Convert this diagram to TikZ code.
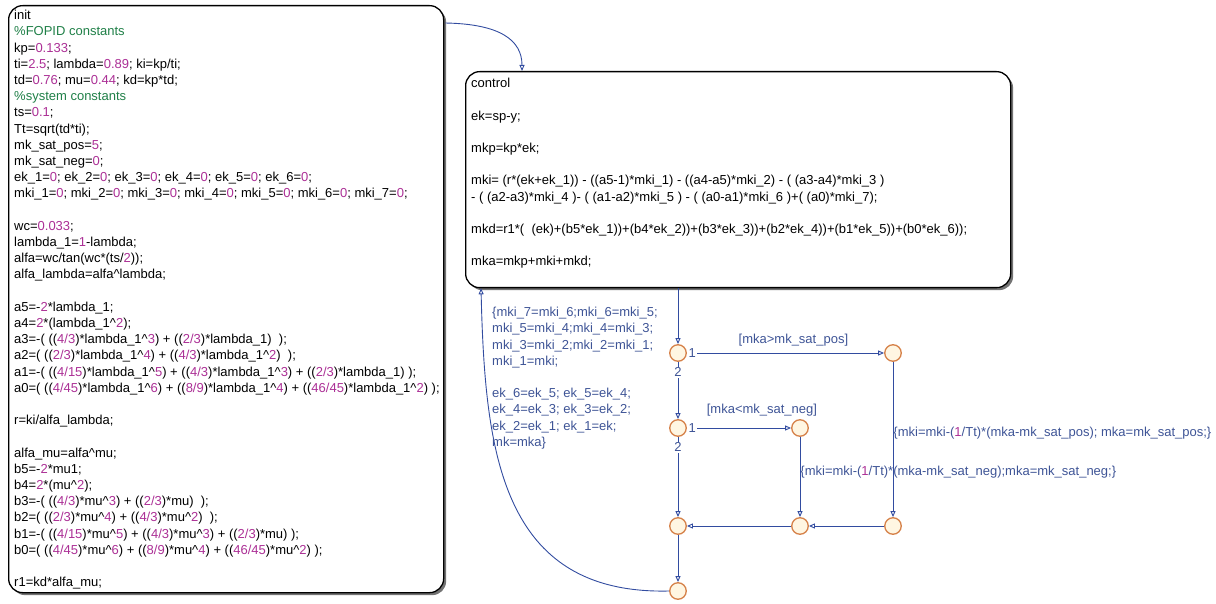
\documentclass[tikz,border=0pt]{standalone}
\usepackage{fontspec}
\setmainfont{Liberation Sans}
\usetikzlibrary{arrows.meta,calc,positioning,shadows}
\definecolor{trblue}{RGB}{50,76,160}
\definecolor{lblblue}{RGB}{62,84,150}
\definecolor{numpink}{RGB}{172,48,150}
\definecolor{cmtgreen}{RGB}{32,128,72}
\definecolor{jedge}{RGB}{214,130,74}
\definecolor{jfill}{RGB}{255,246,226}
\newcommand\nm[1]{\textcolor{numpink}{#1}}
\newcommand\cm[1]{\textcolor{cmtgreen}{#1}}
\newcommand\pw{\textasciicircum}
\tikzset{
  statebox/.style={draw=black,line width=1.3pt,rounded corners=14pt,fill=white,
    drop shadow={shadow xshift=2.5pt,shadow yshift=-2.5pt,opacity=1,fill=black!55}},
  code/.style={anchor=north west,inner sep=0pt,align=left,font=\fontsize{13}{16.2}\selectfont},
  junc/.style={circle,draw=jedge,fill=jfill,line width=1.3pt,minimum size=16.5pt,inner sep=0pt},
  trans/.style={draw=trblue,line width=0.9pt,-{Triangle[open,length=6pt,width=5pt]}},
  trlabel/.style={text=lblblue,font=\fontsize{13}{16.2}\selectfont,inner sep=1pt},
  prio/.style={trlabel,fill=white},
}
\begin{document}
\begin{tikzpicture}[x=1pt,y=-1pt]
 \useasboundingbox (0,0) rectangle (1216,604);
 % states
 \node[statebox,minimum width=435pt,minimum height=587pt,anchor=north west] (init) at (8,5) {};
 \node[code] (initcode) at (14,10) {init\\
  \cm{\%FOPID constants}\\
  kp=\nm{0.133};\\
  ti=\nm{2.5}; lambda=\nm{0.89}; ki=kp/ti;\\
  td=\nm{0.76}; mu=\nm{0.44}; kd=kp*td;\\
  \cm{\%system constants}\\
  ts=\nm{0.1};\\
  Tt=sqrt(td*ti);\\
  mk\_sat\_pos=\nm{5};\\
  mk\_sat\_neg=\nm{0};\\
  ek\_1=\nm{0}; ek\_2=\nm{0}; ek\_3=\nm{0}; ek\_4=\nm{0}; ek\_5=\nm{0}; ek\_6=\nm{0};\\
  mki\_1=\nm{0}; mki\_2=\nm{0}; mki\_3=\nm{0}; mki\_4=\nm{0}; mki\_5=\nm{0}; mki\_6=\nm{0}; mki\_7=\nm{0};\\[16.2pt]
  wc=\nm{0.033};\\
  lambda\_1=\nm{1}-lambda;\\
  alfa=wc/tan(wc*(ts/\nm{2}));\\
  alfa\_lambda=alfa\pw lambda;\\[16.2pt]
  a5=-\nm{2}*lambda\_1;\\
  a4=\nm{2}*(lambda\_1\pw\nm{2});\\
  a3=-( ((\nm{4/3})*lambda\_1\pw\nm{3}) + ((\nm{2/3})*lambda\_1)~ );\\
  a2=( ((\nm{2/3})*lambda\_1\pw\nm{4}) + ((\nm{4/3})*lambda\_1\pw\nm{2})~ );\\
  a1=-( ((\nm{4/15})*lambda\_1\pw\nm{5}) + ((\nm{4/3})*lambda\_1\pw\nm{3}) + ((\nm{2/3})*lambda\_1) );\\
  a0=( ((\nm{4/45})*lambda\_1\pw\nm{6}) + ((\nm{8/9})*lambda\_1\pw\nm{4}) + ((\nm{46/45})*lambda\_1\pw\nm{2}) );\\[16.2pt]
  r=ki/alfa\_lambda;\\[16.2pt]
  alfa\_mu=alfa\pw mu;\\
  b5=-\nm{2}*mu1;\\
  b4=\nm{2}*(mu\pw\nm{2});\\
  b3=-( ((\nm{4/3})*mu\pw\nm{3}) + ((\nm{2/3})*mu)~ );\\
  b2=( ((\nm{2/3})*mu\pw\nm{4}) + ((\nm{4/3})*mu\pw\nm{2})~ );\\
  b1=-( ((\nm{4/15})*mu\pw\nm{5}) + ((\nm{4/3})*mu\pw\nm{3}) + ((\nm{2/3})*mu) );\\
  b0=( ((\nm{4/45})*mu\pw\nm{6}) + ((\nm{8/9})*mu\pw\nm{4}) + ((\nm{46/45})*mu\pw\nm{2}) );\\[16.2pt]
  r1=kd*alfa\_mu;};
 \node[statebox,minimum width=545pt,minimum height=216pt,anchor=north west] (ctrl) at (465,71) {};
 \node[code] (ctrlcode) at (471,78) {control\\[16.2pt]
  ek=sp-y;\\[16.2pt]
  mkp=kp*ek;\\[16.2pt]
  mki= (r*(ek+ek\_1)) - ((a5-1)*mki\_1) - ((a4-a5)*mki\_2) - ( (a3-a4)*mki\_3 )\\
  - ( (a2-a3)*mki\_4 )- ( (a1-a2)*mki\_5 ) - ( (a0-a1)*mki\_6 )+( (a0)*mki\_7);\\[16.2pt]
  mkd=r1*(~ (ek)+(b5*ek\_1))+(b4*ek\_2))+(b3*ek\_3))+(b2*ek\_4))+(b1*ek\_5))+(b0*ek\_6));\\[16.2pt]
  mka=mkp+mki+mkd;};
 % junctions
 \node[junc] (j1) at (678,353) {};
 \node[junc] (j3) at (893,353) {};
 \node[junc] (j2) at (678,428) {};
 \node[junc] (j4) at (800,428) {};
 \node[junc] (j5) at (678,526) {};
 \node[junc] (j6) at (800,526) {};
 \node[junc] (j7) at (893,526) {};
 \node[junc] (j8) at (678,591) {};
 \coordinate (out) at ($(init.north east)+(1,18)$);
 \coordinate (in) at ($(ctrl.north west)+(57,0)$);
 \coordinate (back) at ($(ctrl.south west)+(16,0)$);
 % transitions
 \draw[trans] (out) .. controls (500,24) and (522,40) .. (in);
 \draw[trans] (ctrl.south -| j1) -- (j1);
 \draw[trans] (j1) -- node[trlabel,above=5pt,pos=0.54] {[mka>mk\_sat\_pos]} (j3);
 \node[prio,anchor=west,inner sep=1.5pt] at (j1.east) {1};
 \draw[trans] (j1) -- node[prio,pos=0.18] {2} (j2);
 \draw[trans] (j2) -- node[trlabel,above=10pt,pos=0.72] {[mka<mk\_sat\_neg]} (j4);
 \node[prio,anchor=west,inner sep=1.5pt] at (j2.east) {1};
 \draw[trans] (j2) -- node[prio,pos=0.13] {2} (j5);
 \draw[trans] (j3) -- node[trlabel,anchor=west,inner sep=0pt,pos=0.46]
  {\{mki=mki-(\nm{1}/Tt)*(mka-mk\_sat\_pos); mka=mk\_sat\_pos;\}} (j7);
 \draw[trans] (j4) -- node[trlabel,anchor=west,inner sep=0pt,pos=0.44]
  {\{mki=mki-(\nm{1}/Tt)*(mka-mk\_sat\_neg);mka=mk\_sat\_neg;\}} (j6);
 \draw[trans] (j7) -- (j6);
 \draw[trans] (j6) -- (j5);
 \draw[trans] (j5) -- (j8);
 \draw[trans] (j8.west) .. controls (500,595) and (485,450) .. (back);
 \node[trlabel,anchor=north west,inner sep=0pt,align=left] (shift) at (492,307) {\{mki\_7=mki\_6;mki\_6=mki\_5;\\
  mki\_5=mki\_4;mki\_4=mki\_3;\\
  mki\_3=mki\_2;mki\_2=mki\_1;\\
  mki\_1=mki;\\[16.2pt]
  ek\_6=ek\_5; ek\_5=ek\_4;\\
  ek\_4=ek\_3; ek\_3=ek\_2;\\
  ek\_2=ek\_1; ek\_1=ek;\\
  mk=mka\}};
\end{tikzpicture}
\end{document}
